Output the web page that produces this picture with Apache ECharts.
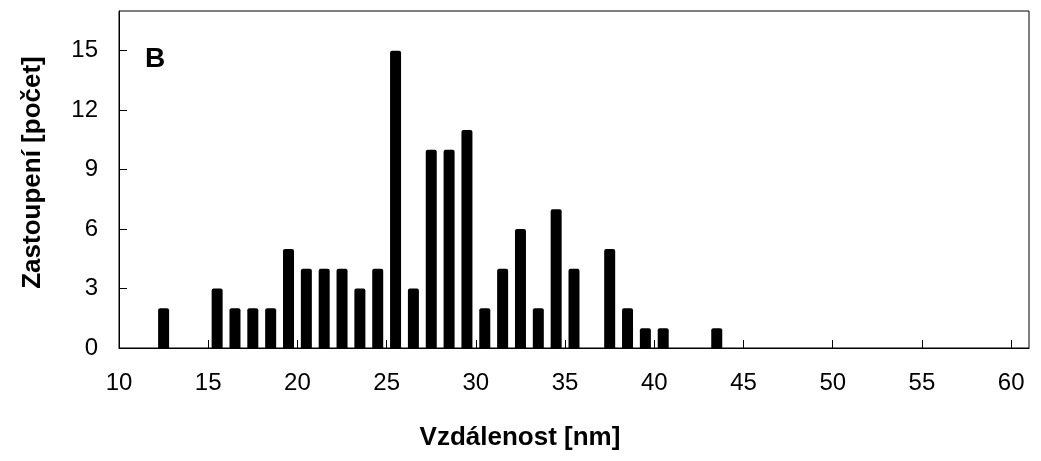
<!DOCTYPE html>
<html>
<head>
<meta charset="utf-8">
<script src="https://cdn.jsdelivr.net/npm/echarts@6/dist/echarts.min.js"></script>
<style>html,body{margin:0;padding:0;background:#fff}#c{width:1041px;height:461px}</style>
</head>
<body>
<div id="c"></div>
<script>
// bin centres (nm) and counts
const binCenters = [12.5, 15.5, 16.5, 17.5, 18.5, 19.5, 20.5, 21.5, 22.5, 23.5, 24.5, 25.5, 26.5, 27.5, 28.5, 29.5, 30.5, 31.5, 32.5, 33.5, 34.5, 35.5, 37.5, 38.5, 39.5, 40.5, 43.5];
const counts     = [2,    3,    2,    2,    2,    5,    4,    4,    4,    3,    4,    15,   3,    10,   10,   11,   2,    4,    6,    2,    7,    4,    5,    2,    1,    1,    1];
const xTicks = [10, 15, 20, 25, 30, 35, 40, 45, 50, 55, 60];
const yTicks = [0, 3, 6, 9, 12, 15];
const xTitle = 'Vzdálenost [nm]';
const yTitle = 'Zastoupení [počet]';
const panelLabel = 'B';

const font = '"Liberation Sans", Arial, sans-serif';
const chart = echarts.init(document.getElementById('c'));
chart.setOption({
  animation: false,
  backgroundColor: '#fff',
  grid: { left: 119, right: 12, top: 11, bottom: 113, show: true, borderColor: '#000', borderWidth: 1, containLabel: false },
  xAxis: {
    type: 'value', min: 10, max: 61, interval: 5,
    name: xTitle, nameLocation: 'middle', nameGap: 77,
    nameTextStyle: { fontFamily: font, fontWeight: 'bold', fontSize: 26, color: '#000', padding: [0, 108, 0, 0] },
    axisLine: { show: true, lineStyle: { color: '#000', width: 1 } },
    axisTick: { show: true, inside: true, length: 8, lineStyle: { color: '#000' }, customValues: xTicks },
    axisLabel: { fontFamily: font, fontSize: 24, color: '#000', margin: 23, customValues: xTicks },
    splitLine: { show: false }
  },
  yAxis: {
    type: 'value', min: 0, max: 17, interval: 3,
    name: yTitle, nameLocation: 'middle', nameGap: 73, nameRotate: 90,
    nameTextStyle: { fontFamily: font, fontWeight: 'bold', fontSize: 26, color: '#000', padding: [0, 0, 0, 14] },
    axisLine: { show: true, lineStyle: { color: '#000', width: 1 } },
    axisTick: { show: true, inside: true, length: 8, lineStyle: { color: '#000' }, customValues: yTicks },
    axisLabel: { fontFamily: font, fontSize: 24, color: '#000', margin: 21, customValues: yTicks },
    splitLine: { show: false }
  },
  graphic: [{
    type: 'text', left: 145, top: 45,
    style: { text: panelLabel, font: 'bold 28px ' + font, fill: '#000' }
  }],
  series: [{
    type: 'bar',
    barWidth: 11,
    itemStyle: { color: '#000', borderRadius: [2, 2, 0, 0] },
    data: binCenters.map((x, i) => [x, counts[i]])
  }]
});
</script>
</body>
</html>
